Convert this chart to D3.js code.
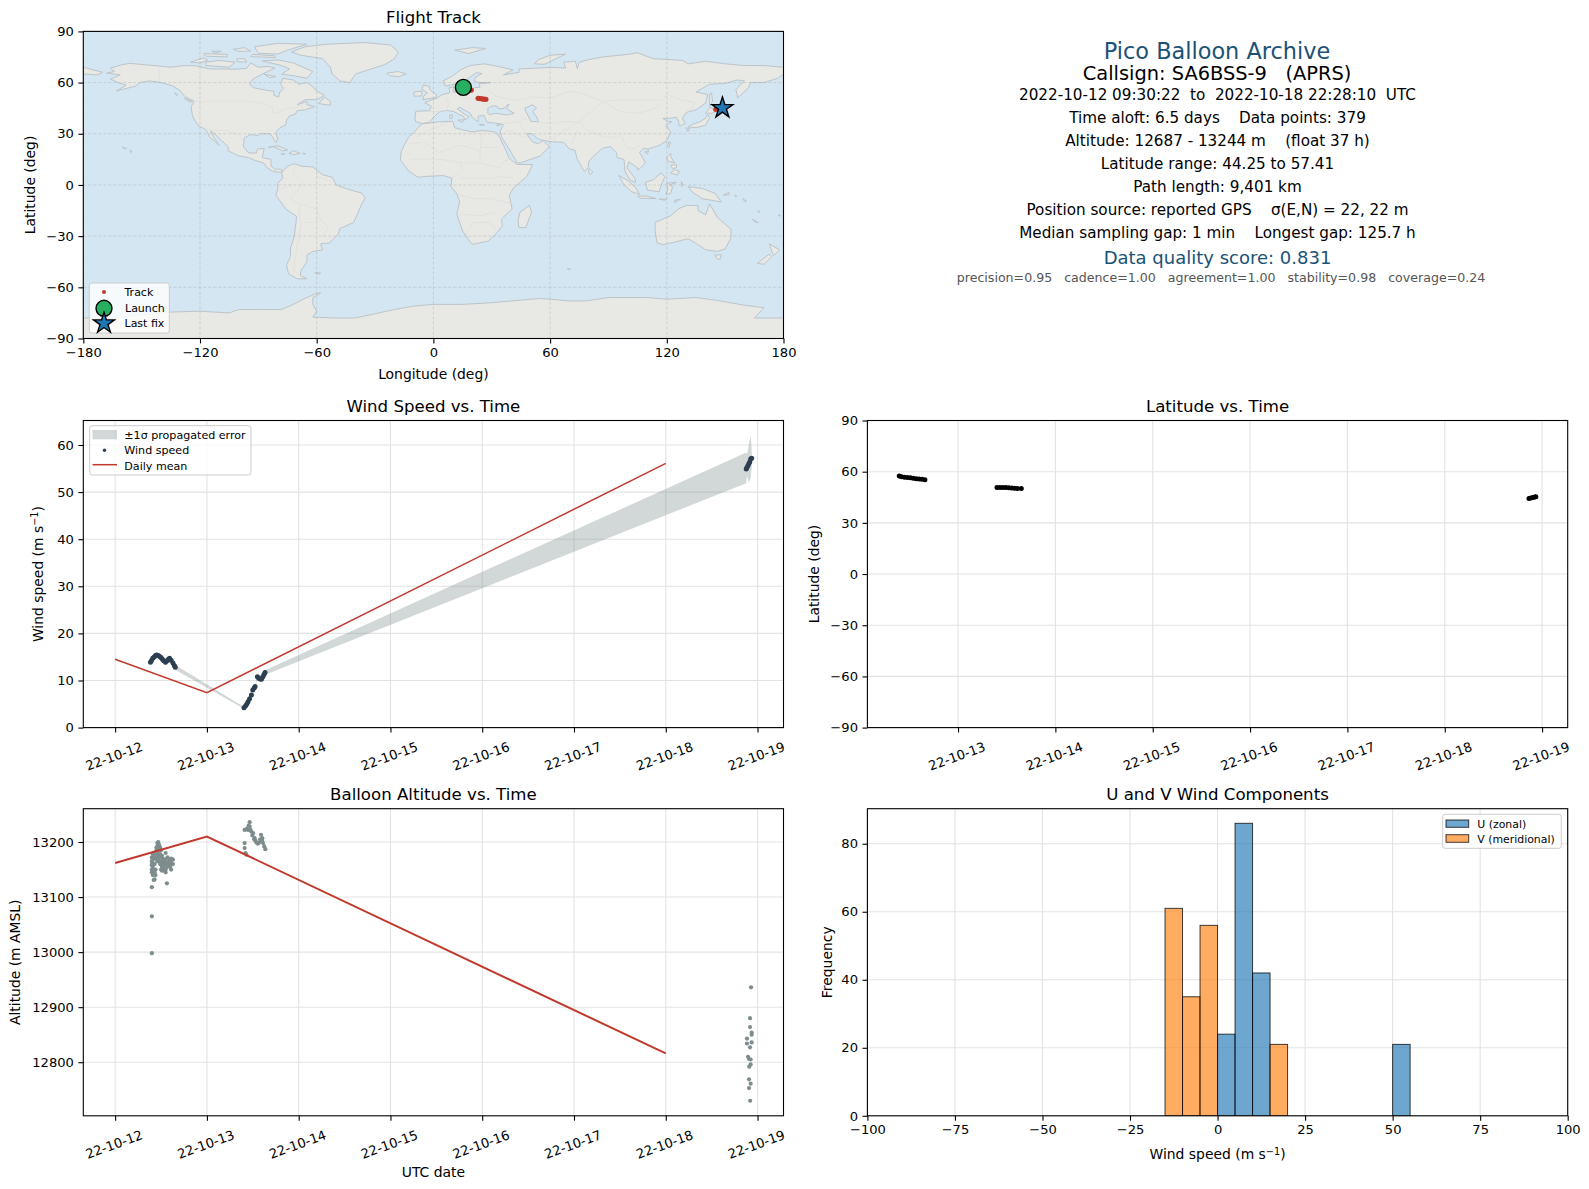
<!DOCTYPE html>
<html>
<head>
<meta charset="utf-8">
<script src="https://cdn.jsdelivr.net/npm/d3@7"></script>
<style>
  body { margin: 0; background: #fff; }
  svg { display: block; }
  text { font-family: "DejaVu Sans", sans-serif; fill: #000; }
</style>
</head>
<body>
<svg id="chart" width="1589" height="1189"></svg>
<script>
// land outlines, [lon, lat]
var landShapes = [
  // north america
  [[-168,65.5],[-164,66.5],[-166,68.5],[-160,70.5],[-156,71.3],[-148,70.4],[-141,69.7],[-135,69],[-128,70],[-122,69.8],[-115,68],[-108,68],[-102,67.8],[-96,68.3],[-94,71.5],[-90,69],[-85,69.5],[-81.5,68.5],[-87,65.5],[-93,62],[-94.5,59],[-92.5,57],[-85,55.3],[-82,55],[-82,52.5],[-79.5,51.5],[-79,54.5],[-77,56.5],[-78.5,59],[-77.5,62.5],[-72,61.5],[-69,59],[-65,60],[-62,57.5],[-60,55],[-56,52.5],[-60,50],[-66,50],[-70,47],[-65,49],[-65,47],[-61,46],[-66,44],[-70,43.5],[-71,41.5],[-74,40.5],[-75.5,38],[-76,35],[-79,33.5],[-81,31],[-80,26.5],[-81,25],[-82.7,28],[-84,30],[-89,30],[-90,29],[-94,29.5],[-97.3,27.5],[-97.7,22.5],[-95,18.8],[-91,18.7],[-90.5,21],[-87,21.5],[-88,16],[-83.5,15],[-83.5,11],[-81,9],[-79.5,9.5],[-77.5,8.5],[-78.5,7.5],[-80.5,7.5],[-83,8.3],[-85.5,10],[-87.5,13],[-92,14.5],[-95,16],[-100,17],[-105.5,20],[-105.5,22.5],[-109,26],[-112.5,30],[-114.7,31.7],[-113,28],[-110,23],[-112,25],[-115,28],[-117,32.5],[-120.5,34.5],[-122.5,37.5],[-124,41],[-124.5,46],[-123,49],[-128,52],[-130,55],[-134,58],[-140,60],[-146,61],[-151,60],[-153,58],[-158,56.5],[-163,55],[-158,58.5],[-162,60],[-166,62],[-161,64.5]],
  // greenland and arctic islands
  [[-73,78],[-66,81],[-55,82.5],[-35,83.5],[-22,82],[-18,78],[-20,74],[-25,70.5],[-32,68],[-40,65],[-43,60],[-48,61],[-52,65],[-53,69],[-57,74],[-68,76]],
  [[-80,73.3],[-72,71.5],[-67,69],[-62,66.5],[-65,62.5],[-72,64],[-78,65],[-74,68],[-78,70],[-88,72.7]],
  [[-117,70],[-105,69],[-102,72],[-110,73],[-117,72]],
  [[-125,72],[-118,74.5],[-116,73],[-120,71.5]],
  [[-90,77.2],[-80,76.7],[-75,79],[-65,82.5],[-80,83],[-92,81]],
  [[-94,75.2],[-81,74.7],[-82,75.8],[-93,76.5]],
  [[-117,75.5],[-106,75],[-106,76.5],[-118,77]],
  [[-101,74],[-97,74],[-96,72],[-101,72.2]],
  [[-114,78.4],[-109,78.4],[-112,77.4]],
  [[-103,79.5],[-97,80.5],[-94,78.5],[-100,78.3]],
  [[-87,65],[-81,63.5],[-84,62.8]],
  [[-59,47.7],[-53,46.7],[-53,49],[-56,51.5]],
  // caribbean and pacific
  [[-85,22],[-80,23],[-75,20.5],[-77.5,19.9],[-82,22.5]],
  [[-74.3,18.5],[-72,20],[-68.5,18.5],[-71.5,17.8]],
  [[-78.3,18.4],[-76.3,18.1],[-77.5,17.8]],
  [[-67.2,18.5],[-65.7,18.4],[-66.5,18]],
  [[-156,20.3],[-155,19.6],[-155.7,19]],
  [[-160,22.1],[-157.8,21.5],[-158.2,21.2]],
  [[-61,-51.5],[-58,-51.5],[-59,-52.3]],
  [[-128,50.8],[-124,49],[-125,48.5]],
  [[-133,54],[-131.5,53],[-132,52.3]],
  // south america
  [[-77,8.5],[-75,11],[-71.5,12.5],[-68,11],[-62,10.5],[-57,6],[-52,4.5],[-50,0],[-44,-2.5],[-37,-4.7],[-35,-7.5],[-37,-11.5],[-39,-17],[-41,-22],[-48,-25.5],[-49,-29],[-53.5,-34],[-58,-34.5],[-57,-38],[-62,-39],[-65,-41],[-65,-45],[-68,-50],[-68.5,-53],[-65,-55],[-70,-55],[-74.5,-52],[-75.5,-47],[-73.5,-42],[-73.5,-37],[-71.5,-30],[-70.3,-18.5],[-76,-14],[-81,-6],[-80,-2.5],[-80,1],[-77.5,4],[-78,7.5]],
  // africa
  [[-6,35.8],[3,37],[10,37.3],[11,33.5],[15,32.3],[20,31],[25,32],[32,31],[34,28],[37,21],[39,15.5],[43,12],[51,12],[48,5],[41,-2],[39,-6],[40.5,-14],[35,-20],[35.5,-24],[32.7,-28],[28,-33],[20,-34.8],[18,-32],[15,-27],[12,-17],[13.5,-10],[12,-5],[9,-1],[9.5,4],[5,5.5],[-4,5],[-8,4.5],[-13,8.5],[-17,14.7],[-16.5,20],[-13,27.5],[-9.5,31.5]],
  [[49.3,-12],[50.5,-16],[47.5,-25],[44,-25],[43.5,-21],[44.5,-16]],
  // eurasia
  [[-9,37],[-9.5,38.8],[-9,43.2],[-2,43.5],[-1,46],[-4.5,48.3],[2,51],[4.5,53],[8.5,54],[8,57],[10.5,57.5],[10,54.5],[14,54],[19,54.5],[21,57],[24,57.3],[23.5,59.3],[29.5,60],[23,60],[21,61],[21.5,63],[25,65.3],[22,65.8],[17.5,62],[18.5,60],[16.5,57],[14,55.5],[12.5,56],[11,59],[6,58],[5,61],[10,64],[14,67.5],[19,70],[26,71],[31,70],[41,67.5],[36,64.5],[44,66],[44,68],[54,68.5],[60,69],[68,68.5],[67,72],[73,72.5],[74,68],[75,72],[80,73.5],[87,75],[100,76.5],[105,77.5],[113,74],[128,73],[131,71],[140,72.5],[150,71],[160,70],[170,70],[180,69],[180,65],[177,62.5],[170,60],[163,60],[162,57],[156.5,51],[155.5,56],[160,61],[156,61.5],[150,59.5],[142,59],[135,54.5],[141,53],[140,48],[135,44],[130,42.5],[128,39],[129.5,36],[126.5,34.5],[126,37.5],[125,39.7],[121,39],[118,39],[120,37.5],[122.5,37],[119.5,35],[122,31],[120,26],[116,23],[110,21],[108,21.5],[106,19],[109,13],[107,10.5],[105,8.7],[105,10],[100.5,13.5],[99.5,10],[103.5,4],[104,1.3],[101,3],[98.5,8],[98,15],[94.5,16],[94,19],[91,22.5],[87,21.5],[82,16.5],[80,14],[79.5,10],[77.5,8],[74,15],[72.7,20.5],[70,21],[67,25],[61,25.3],[57,26],[54,26.8],[50.5,30],[48,30],[50,26.5],[51.5,25],[54,24.2],[56.3,26],[59.7,22.5],[55,17],[45,13],[43,13],[39,21],[35,28],[34.3,31.3],[36,35.5],[32,36.2],[27.5,36.8],[26.5,39.5],[26,40.7],[23,40.3],[23,37],[20,39.5],[19,42],[13.5,45.5],[12.3,44.5],[16,41.5],[18.5,40],[16,38],[15.7,40],[10.5,43],[7,43.7],[3.2,43],[0,39.5],[-2,36.8],[-5.5,36]],
  [[-180,69],[-175,67.5],[-170,66],[-173,64.5],[-180,65]],
  // europe islands
  [[-5.5,50],[1.3,51.2],[1.7,52.7],[-2,56],[-2,57.7],[-5,58.6],[-6,56],[-3,54],[-5,52]],
  [[-10,52],[-6,52.2],[-6,55],[-10,54.5]],
  [[-24,65.5],[-18,66.5],[-14,65],[-18,63.5],[-22.5,64]],
  [[11,79],[20,80.5],[27,80],[18,77]],
  [[52,71],[57,70.7],[68,76.7],[60,76],[54,73.5]],
  [[8.3,41],[9.7,41],[9.5,39],[8.5,39]],
  [[12.5,38],[15.5,38.2],[15,36.7]],
  [[23.5,35.5],[26.3,35.2],[24.5,34.9]],
  [[32.5,35],[34.5,35.6],[33.5,34.7]],
  // asia islands
  [[80,9.7],[82,7.5],[80.5,6],[79.8,8]],
  [[131,34],[135,33.6],[140,35],[142,39.5],[141,41.3],[139.8,39],[137,37],[133,35.5]],
  [[140,42],[143,42],[145.5,43.5],[142,45.5]],
  [[130,33.5],[131.8,33],[130.8,31.2]],
  [[142,46],[143.5,49],[143,54],[142,53]],
  [[120.3,23],[121,22],[122,25],[121,25.2]],
  [[108.7,19.3],[110.8,20],[110,18.3]],
  [[120,16],[122,18.5],[122.3,16],[124,13],[120.5,14]],
  [[122,11.5],[125,12],[125,10.2],[123,9.5]],
  [[122,7],[125.5,5.8],[126.5,8],[124,9]],
  [[109,1.5],[113,3],[117,7],[119,5],[117.5,1],[116,-4],[110,-3]],
  [[95.3,5.6],[100,2.5],[104,-1.5],[106,-5.5],[102,-4],[98,0]],
  [[105,-6.5],[110,-6.5],[114.5,-8],[106,-7.8]],
  [[119.5,-5.5],[120.5,-2.5],[120,1],[125,1.5],[121.5,0],[123,-1],[122,-5]],
  [[127.5,2],[128.5,0],[127.7,-0.8]],
  [[116,-8.3],[120,-8.3],[119,-9]],
  [[124,-9],[127,-8.4],[124,-10.2]],
  // oceania
  [[131,-1],[138,-2],[145,-5],[148,-10],[143,-9],[138,-8],[133,-4]],
  [[149,-6],[152,-4.3],[152,-5.8]],
  [[155,-6],[156,-6.5],[155.5,-7]],
  [[159,-8],[161,-9.5],[160,-9.7]],
  [[114,-22],[122,-18],[126,-14],[130,-12],[136,-12],[136,-15],[140,-17.5],[142,-11],[146,-19],[153,-26],[153,-31],[150,-37.5],[146,-39],[140,-38],[136,-35],[131,-31.5],[124,-33.5],[118,-35],[115,-34],[114,-27]],
  [[144.7,-41],[148,-41],[147.5,-43.5],[146,-43.5]],
  [[172.7,-34.5],[178,-38],[175,-41.5],[174,-39]],
  [[172.5,-40.7],[174,-42],[170,-46.5],[166.5,-46],[171,-42]],
  [[164,-20],[167,-22],[165.5,-21.8]],
  [[167,-15],[167.8,-16],[167,-16]],
  [[177.5,-17.5],[178.6,-18],[177.6,-18.2]],
  [[68.8,-49],[70.5,-49.2],[69.5,-49.7]],
  // antarctica
  [[-180,-78],[-165,-78],[-158,-77],[-148,-76],[-135,-74.5],[-120,-74],[-105,-75],[-100,-73],[-90,-73],[-78,-73],[-72,-70],[-67,-67],[-60,-63.5],[-58,-63.3],[-62,-66],[-62,-70],[-60,-74],[-62,-77.5],[-50,-78],[-40,-78],[-32,-76],[-20,-73],[-10,-71],[0,-70],[15,-70],[30,-69],[45,-67.5],[55,-66.5],[70,-68],[78,-68],[90,-66],[110,-66],[120,-67],[135,-66],[145,-67.5],[160,-70.5],[170,-72],[165,-78],[180,-78],[180,-90],[-180,-90]]
];
// inland seas painted back over the land
var seaShapes = [
  [[28,42],[28,45],[31,46.5],[33,46],[33.5,44.5],[36.5,45],[38,47],[39,47],[37.5,44.7],[41.5,42],[38,41],[32,42],[29,41.2]],
  [[47,45],[51,47],[53,45],[51,43],[53,40],[54,37],[50,37.3],[49,40],[47.5,43]]
];
// a few faint country borders
var borderLines = [
  [[-123,49],[-95,49],[-88,48],[-83,45.5],[-82.5,42],[-79,43],[-75,45],[-71,45],[-68,47],[-67,45]],
  [[-141,69.7],[-141,60]],
  [[-117,32.5],[-106.5,31.8],[-101,29.7],[-97.3,26]],
  [[-71,12],[-72,7],[-67,2],[-70,-4],[-74,-8],[-69,-11],[-69,-17]],
  [[-60,8],[-60,5],[-52,2]],
  [[-69,-11],[-60,-14],[-58,-20],[-54,-25],[-57,-30]],
  [[-69,-17],[-68,-24],[-70,-35],[-72,-50],[-68.5,-53]],
  [[-80,-3],[-75,-1],[-72,1]],
  [[-58,-20],[-62,-22],[-66,-22]],
  [[-9,28],[-2,32],[2,34],[8,37]],
  [[-13,24],[-5,25],[3,19],[12,23],[15,23],[24,20],[25,32]],
  [[-12,15],[-5,15],[4,15],[14,13],[24,13],[24,20]],
  [[24,13],[34,10],[36,14],[40,15]],
  [[34,22],[24,22]],
  [[9,4],[15,8],[14,13]],
  [[14,4],[30,4],[35,5],[41,4]],
  [[13,-6],[22,-8],[30,-8],[40,-11]],
  [[12,-17],[24,-18],[33,-16]],
  [[17,-29],[20,-22],[29,-22],[32,-26]],
  [[-2,43],[3,43],[7,44],[8,48],[6,51]],
  [[14,54],[15,51],[24,50],[29,45]],
  [[28,56],[32,52],[40,50],[47,50],[50,51.5],[61,51],[70,55],[77,53.5],[87,49],[98,50],[107,50],[117,49.5],[120,53],[127,50],[135,48],[131,43]],
  [[87,49],[96,43],[105,42],[112,44],[117,47]],
  [[53,37],[61,36],[66,37],[75,37],[80,42],[87,49]],
  [[75,37],[79,32],[88,28],[97,28],[99,22],[102,21],[106,23]],
  [[61,25],[63,29],[71,34],[75,37]],
  [[71,24],[74,32]],
  [[36,36],[44,37],[46,33],[48,30]],
  [[35,30],[39,32],[44,29],[48,28]],
  [[44,37],[48,39]]
];

var mapLonTicks = [-180, -120, -60, 0, 60, 120, 180];
var mapLatTicks = [-90, -60, -30, 0, 30, 60, 90];

// positions of the balloon on the map
var trackLon = [15.4, 16.5, 17.5, 18.5, 19.5, 23, 24, 25, 26, 27, 145.2, 146.5, 148.6];
var trackLat = [57.4, 56.9, 56.5, 56, 55.6, 50.8, 50.6, 50.5, 50.3, 50.2, 44.3, 44.8, 45.1];
var launchPoint = [15.4, 57.2];
var lastFix = [148.6, 45.1];

// time is in days of October 2022, so 12.5 = 22-10-12 12:00
var dayTicks = [12, 13, 14, 15, 16, 17, 18, 19];
var latDayTicks = [13, 14, 15, 16, 17, 18, 19];

var windTimes = [12.385, 12.395, 12.41, 12.425, 12.44, 12.454, 12.47, 12.485, 12.5, 12.515, 12.53, 12.549, 12.565, 12.58, 12.593, 12.61, 12.63, 12.645, 12.655,
  13.404, 13.42, 13.435, 13.448, 13.465, 13.485, 13.5, 13.515, 13.525, 13.55, 13.565, 13.58, 13.594, 13.61, 13.622, 13.633,
  18.877, 18.885, 18.895, 18.905, 18.915, 18.925, 18.936];
var windSpeeds = [13.9, 14.2, 14.7, 15, 15.3, 15.4, 15.3, 15.1, 14.9, 14.5, 14.2, 13.9, 14.2, 14.5, 14.7, 14.3, 13.7, 13.2, 12.8,
  4.2, 4.6, 5, 5.5, 6.1, 6.9, 8, 8.4, 8.7, 10.8, 10.5, 10.3, 10.25, 10.8, 11.3, 11.7,
  54.9, 55.2, 55.6, 56, 56.4, 57, 57.2];

var bandTimes = [12.385, 12.41, 12.454, 12.5, 12.549, 12.593, 12.63, 12.655, 13.404, 13.448, 13.485, 13.5, 13.525, 13.55, 13.594, 13.633, 18.877, 18.885, 18.905, 18.925, 18.936];
var bandUpper = [14.4, 15.2, 15.9, 15.4, 14.4, 15.2, 14.1, 13.3, 4.4, 5.7, 7.1, 8.2, 8.9, 11.1, 10.5, 12.2, 58.4, 58, 60, 62.1, 59];
var bandLower = [13.4, 14.2, 14.9, 14.4, 13.3, 14.2, 13.2, 12.3, 4, 5.3, 6.7, 7.8, 8.5, 10.5, 10, 11.2, 51.9, 53.5, 52, 53, 55];

var meanDays = [12, 13, 18];
var meanWind = [14.5, 7.4, 56.1];
var meanAltitude = [13162, 13210, 12816];

var latTimes = [12.396, 12.42, 12.45, 12.48, 12.51, 12.54, 12.57, 12.6, 12.63, 12.66, 13.4, 13.43, 13.46, 13.49, 13.52, 13.55, 13.58, 13.61, 13.65, 18.865, 18.885, 18.905, 18.925, 18.936];
var latValues = [57.41, 57.1, 56.8, 56.6, 56.4, 56.1, 55.9, 55.7, 55.5, 55.3, 50.8, 50.8, 50.75, 50.7, 50.6, 50.5, 50.3, 50.1, 50.1, 44.25, 44.6, 44.8, 45.1, 45.3];

var altTimes = [12.4, 12.4, 12.4, 12.4, 12.4, 12.4, 12.4, 12.4, 12.4,
  12.41, 12.41, 12.41, 12.41, 12.41, 12.42, 12.42, 12.42, 12.42, 12.42, 12.43, 12.43, 12.43, 12.43, 12.44, 12.44, 12.44,
  12.45, 12.45, 12.45, 12.46, 12.46, 12.46, 12.46, 12.47, 12.47, 12.47, 12.47, 12.48, 12.48, 12.48, 12.49, 12.49, 12.49, 12.49,
  12.5, 12.5, 12.5, 12.5, 12.51, 12.51, 12.51, 12.51, 12.52, 12.52, 12.52, 12.53, 12.53, 12.564, 12.55, 12.55, 12.55, 12.55, 12.55,
  12.57, 12.57, 12.57, 12.59, 12.59, 12.6, 12.6, 12.61, 12.61, 12.61, 12.63, 12.63,
  13.411, 13.411, 13.42, 13.43, 13.411, 13.448, 13.466, 13.466, 13.484, 13.503, 13.52, 13.54, 13.568, 13.59, 13.604, 13.612, 13.637, 13.44, 13.455, 13.475, 13.495, 13.515, 13.53, 13.555, 13.58, 13.6, 13.625,
  18.929, 18.918, 18.918, 18.936, 18.936, 18.885, 18.885, 18.936, 18.918, 18.896, 18.907, 18.925, 18.925, 18.91, 18.907, 18.925, 18.907, 18.92];
var altValues = [13172, 13165, 13158, 13150, 13160, 13145, 13118, 13065, 12998,
  13178, 13168, 13155, 13148, 13140, 13180, 13170, 13160, 13150, 13131, 13175, 13160, 13145, 13132, 13170, 13150, 13140,
  13190, 13185, 13175, 13198, 13192, 13180, 13165, 13200, 13195, 13185, 13170, 13195, 13188, 13175, 13190, 13178, 13165, 13160,
  13185, 13172, 13160, 13150, 13175, 13165, 13155, 13148, 13170, 13160, 13150, 13165, 13155, 13125, 13180, 13168, 13160, 13150, 13145,
  13172, 13162, 13155, 13168, 13158, 13165, 13155, 13170, 13160, 13150, 13168, 13160,
  13198, 13189, 13180, 13177, 13222, 13222, 13236, 13228, 13219, 13216, 13207, 13199, 13199, 13213, 13207, 13198, 13187, 13225, 13230, 13222, 13212, 13205, 13202, 13197, 13205, 13203, 13192,
  12936, 12880, 12864, 12854, 12850, 12843, 12834, 12836, 12827, 12810, 12806, 12805, 12796, 12792, 12769, 12761, 12753, 12730];

var histBinStart = [-15, -10, -5, 0, 5, 10, 15, 50];
var histU = [0, 0, 0, 24, 86, 42, 0, 21];
var histV = [61, 35, 56, 0, 0, 0, 21, 0];
var histBinWidth = 5;
var histXTicks = [-100, -75, -50, -25, 0, 25, 50, 75, 100];

var infoLines = [
  ["Pico Balloon Archive", 50.5, 22.4, "#1a5276", 1217],
  ["Callsign: SA6BSS-9   (APRS)", 73, 19.4, "#000", 1217],
  ["2022-10-12 09:30:22  to  2022-10-18 22:28:10  UTC", 95, 15.2, "#000", 1217.5],
  ["Time aloft: 6.5 days    Data points: 379", 118, 15.2, "#000", 1217.5],
  ["Altitude: 12687 - 13244 m    (float 37 h)", 141, 15.2, "#000", 1217.5],
  ["Latitude range: 44.25 to 57.41", 164, 15.2, "#000", 1217.5],
  ["Path length: 9,401 km", 187, 15.2, "#000", 1217.5],
  ["Position source: reported GPS    σ(E,N) = 22, 22 m", 210, 15.2, "#000", 1217.5],
  ["Median sampling gap: 1 min    Longest gap: 125.7 h", 233, 15.2, "#000", 1217.5],
  ["Data quality score: 0.831", 257.5, 18, "#1a5276", 1217.5],
  ["precision=0.95   cadence=1.00   agreement=1.00   stability=0.98   coverage=0.24", 277.5, 12.6, "#555", 1221]
];

var tickFont = 13.1, labelFont = 13.9, titleFont = 16.6;
var gridColor = "#e3e3e3";
var minusFmt = function(d){ return String(d).replace("-", "\u2212") };
var dateFmt = function(d){ return "22-10-" + d };

var svg = d3.select("#chart");
var clipCount = 0;

// one axes box, returns the scales and the clipped group to draw in
function makePanel(box, xDomain, yDomain, xTicks, yTicks, xFmt, rotated){
  var x = d3.scaleLinear().domain(xDomain).range([box.left, box.right]);
  var y = d3.scaleLinear().domain(yDomain).range([box.bottom, box.top]);
  var id = "clip" + (clipCount++);
  svg.append("clipPath").attr("id", id).append("rect")
    .attr("x", box.left).attr("y", box.top)
    .attr("width", box.right - box.left).attr("height", box.bottom - box.top);

  var back = svg.append("g").attr("clip-path", "url(#" + id + ")");
  var grid = svg.append("g");
  grid.selectAll(".gx").data(xTicks).enter().append("line")
    .attr("x1", x).attr("x2", x).attr("y1", box.top).attr("y2", box.bottom);
  grid.selectAll(".gy").data(yTicks).enter().append("line")
    .attr("y1", y).attr("y2", y).attr("x1", box.left).attr("x2", box.right);
  grid.selectAll("line").attr("stroke", gridColor).attr("stroke-width", 1.1);
  var marks = svg.append("g").attr("clip-path", "url(#" + id + ")");

  var xAxis = svg.append("g").attr("transform", "translate(0," + box.bottom + ")")
    .call(d3.axisBottom(x).tickValues(xTicks).tickFormat(xFmt).tickSize(4.9).tickPadding(4));
  var yAxis = svg.append("g").attr("transform", "translate(" + box.left + ",0)")
    .call(d3.axisLeft(y).tickValues(yTicks).tickFormat(minusFmt).tickSize(4.9).tickPadding(4.5));
  [xAxis, yAxis].forEach(function(a){
    a.select(".domain").remove();
    a.selectAll("line").attr("stroke-width", 1.1);
    a.selectAll("text").style("font-family", "DejaVu Sans").attr("font-size", tickFont);
  });
  if (rotated){
    xAxis.selectAll("text")
      .attr("text-anchor", "middle").attr("dy", 0).attr("y", 0)
      .attr("transform", "translate(0,33) rotate(-20)");
  }
  svg.append("rect").attr("x", box.left).attr("y", box.top)
    .attr("width", box.right - box.left).attr("height", box.bottom - box.top)
    .attr("fill", "none").attr("stroke", "#000").attr("stroke-width", 1.1);

  return {x: x, y: y, back: back, grid: grid, marks: marks, box: box};
}

function title(box, txt){
  svg.append("text").attr("x", (box.left + box.right) / 2).attr("y", box.top - 8.5)
    .attr("text-anchor", "middle").attr("font-size", titleFont).text(txt);
}

function xLabel(box, yPos, txt, sup){
  var t = svg.append("text").attr("x", (box.left + box.right) / 2).attr("y", yPos)
    .attr("text-anchor", "middle").attr("font-size", labelFont).text(txt);
  if (sup) addSuper(t);
}

function yLabel(box, xPos, txt, sup){
  var t = svg.append("text")
    .attr("transform", "translate(" + xPos + "," + (box.top + box.bottom) / 2 + ") rotate(-90)")
    .attr("text-anchor", "middle").attr("font-size", labelFont).text(txt);
  if (sup) addSuper(t);
}

// "m s^-1)" with a raised exponent
function addSuper(t){
  t.append("tspan").attr("dy", -4.5).attr("font-size", labelFont * 0.7).text("\u22121");
  t.append("tspan").attr("dy", 4.5).text(")");
}

function legendBox(x0, y0, w, h){
  svg.append("rect").attr("x", x0).attr("y", y0).attr("width", w).attr("height", h).attr("rx", 2.5)
    .attr("fill", "#fff").attr("fill-opacity", 0.8).attr("stroke", "#ccc").attr("stroke-width", 1);
}
function legendText(x0, y0, txt, size){
  svg.append("text").attr("x", x0).attr("y", y0).attr("font-size", size).text(txt);
}

var timeLine = function(p, times, values){
  return d3.line().x(function(d){ return p.x(d) })
    .y(function(d, i){ return p.y(values[i]) })(times);
};

// ---- flight track map
var mapBox = {left: 83.3, right: 783.5, top: 31.4, bottom: 338.5};
var mapP = makePanel(mapBox, [-180, 180], [-90, 90], mapLonTicks, mapLatTicks, minusFmt, false);
var geoLine = d3.line().x(function(d){ return mapP.x(d[0]) }).y(function(d){ return mapP.y(d[1]) });
mapP.back.append("rect").attr("x", mapBox.left).attr("y", mapBox.top)
  .attr("width", mapBox.right - mapBox.left).attr("height", mapBox.bottom - mapBox.top).attr("fill", "#d4e6f1");
mapP.back.selectAll(".land").data(landShapes).enter().append("path")
  .attr("d", function(d){ return geoLine(d) + "Z" })
  .attr("fill", "#e8e8e4").attr("stroke", "#bcc4ca").attr("stroke-width", 1).attr("stroke-linejoin", "round");
mapP.back.selectAll(".sea").data(seaShapes).enter().append("path")
  .attr("d", function(d){ return geoLine(d) + "Z" })
  .attr("fill", "#d4e6f1").attr("stroke", "#bcc4ca").attr("stroke-width", 1);
mapP.back.selectAll(".border").data(borderLines).enter().append("path")
  .attr("d", geoLine).attr("fill", "none").attr("stroke", "#dcdcda").attr("stroke-width", 0.7);
mapP.grid.selectAll("line").attr("stroke", "#9a9a9a").attr("stroke-opacity", 0.4)
  .attr("stroke-width", 0.8).attr("stroke-dasharray", "3,2");
mapP.marks.selectAll(".trk").data(trackLon).enter().append("circle")
  .attr("cx", function(d){ return mapP.x(d) })
  .attr("cy", function(d, i){ return mapP.y(trackLat[i]) })
  .attr("r", 2.6).attr("fill", "#c0392b");
mapP.marks.append("circle").attr("cx", mapP.x(launchPoint[0])).attr("cy", mapP.y(launchPoint[1]))
  .attr("r", 8).attr("fill", "#27ae60").attr("stroke", "#000").attr("stroke-width", 1.4);
mapP.marks.append("path").attr("d", d3.symbol(d3.symbolStar).size(136)())
  .attr("transform", "translate(" + mapP.x(lastFix[0]) + "," + mapP.y(lastFix[1]) + ")")
  .attr("fill", "#1f77b4").attr("stroke", "#000").attr("stroke-width", 1.4);
title(mapBox, "Flight Track");
xLabel(mapBox, 378.5, "Longitude (deg)");
yLabel(mapBox, 35, "Latitude (deg)");
legendBox(89.3, 283, 80, 50);
svg.append("circle").attr("cx", 104).attr("cy", 292).attr("r", 2).attr("fill", "#c0392b");
svg.append("circle").attr("cx", 104).attr("cy", 308.3).attr("r", 8).attr("fill", "#27ae60").attr("stroke", "#000").attr("stroke-width", 1.4);
svg.append("path").attr("d", d3.symbol(d3.symbolStar).size(136)()).attr("transform", "translate(104,323.3)")
  .attr("fill", "#1f77b4").attr("stroke", "#000").attr("stroke-width", 1.4);
legendText(124.5, 296, "Track", 11);
legendText(125, 312, "Launch", 11);
legendText(124.5, 327, "Last fix", 11);

// ---- info block
svg.selectAll(".info").data(infoLines).enter().append("text")
  .attr("x", function(d){ return d[4] }).attr("y", function(d){ return d[1] + d[2] * 0.36 })
  .attr("text-anchor", "middle").attr("font-size", function(d){ return d[2] })
  .style("fill", function(d){ return d[3] })
  .attr("xml:space", "preserve").style("white-space", "pre")
  .text(function(d){ return d[0] });

// ---- wind speed
var windBox = {left: 83.3, right: 783.5, top: 420.5, bottom: 727.6};
var windP = makePanel(windBox, [11.653, 19.283], [0, 65.2], dayTicks, [0, 10, 20, 30, 40, 50, 60], dateFmt, true);
var bandArea = d3.area().x(function(d){ return windP.x(d) })
  .y0(function(d, i){ return windP.y(bandLower[i]) })
  .y1(function(d, i){ return windP.y(bandUpper[i]) });
windP.marks.append("path").attr("d", bandArea(bandTimes)).attr("fill", "#7f8c8d").attr("fill-opacity", 0.35);
windP.marks.selectAll(".wnd").data(windTimes).enter().append("circle")
  .attr("cx", function(d){ return windP.x(d) })
  .attr("cy", function(d, i){ return windP.y(windSpeeds[i]) })
  .attr("r", 2.5).attr("fill", "#2c3e50");
windP.marks.append("path").attr("d", timeLine(windP, meanDays, meanWind))
  .attr("fill", "none").attr("stroke", "#c0392b").attr("stroke-width", 1.5);
title(windBox, "Wind Speed vs. Time");
yLabel(windBox, 42.5, "Wind speed (m s", true);
legendBox(89.7, 425.7, 161.3, 49.3);
svg.append("rect").attr("x", 92.5).attr("y", 430).attr("width", 24.5).attr("height", 9.3)
  .attr("fill", "#7f8c8d").attr("fill-opacity", 0.35);
svg.append("circle").attr("cx", 104.5).attr("cy", 450.3).attr("r", 1.7).attr("fill", "#2c3e50");
svg.append("line").attr("x1", 92.5).attr("x2", 117).attr("y1", 464.7).attr("y2", 464.7)
  .attr("stroke", "#c0392b").attr("stroke-width", 1.5);
legendText(124.3, 439.3, "±1σ propagated error", 11.1);
legendText(124.3, 454.3, "Wind speed", 11.1);
legendText(124.3, 469.5, "Daily mean", 11.1);

// ---- latitude
var latBox = {left: 867.4, right: 1567.7, top: 420.5, bottom: 727.6};
var latP = makePanel(latBox, [12.069, 19.263], [-90, 90], latDayTicks, mapLatTicks, dateFmt, true);
latP.marks.selectAll(".lat").data(latTimes).enter().append("circle")
  .attr("cx", function(d){ return latP.x(d) })
  .attr("cy", function(d, i){ return latP.y(latValues[i]) })
  .attr("r", 2.5).attr("fill", "#000");
title(latBox, "Latitude vs. Time");
yLabel(latBox, 819, "Latitude (deg)");

// ---- altitude
var altBox = {left: 83.3, right: 783.5, top: 808.7, bottom: 1115.8};
var altP = makePanel(altBox, [11.653, 19.283], [12702.7, 13260.5], dayTicks, [12800, 12900, 13000, 13100, 13200], dateFmt, true);
altP.marks.selectAll(".alt").data(altTimes).enter().append("circle")
  .attr("cx", function(d){ return altP.x(d) })
  .attr("cy", function(d, i){ return altP.y(altValues[i]) })
  .attr("r", 2.1).attr("fill", "#7f8c8d");
altP.marks.append("path").attr("d", timeLine(altP, meanDays, meanAltitude))
  .attr("fill", "none").attr("stroke", "#c0392b").attr("stroke-width", 2);
title(altBox, "Balloon Altitude vs. Time");
xLabel(altBox, 1177, "UTC date");
yLabel(altBox, 20, "Altitude (m AMSL)");

// ---- histogram
var histBox = {left: 867.4, right: 1567.7, top: 808.7, bottom: 1115.8};
var histP = makePanel(histBox, [-100, 100], [0, 90.3], histXTicks, [0, 20, 40, 60, 80], minusFmt, false);
[[histU, "#1f77b4"], [histV, "#ff7f0e"]].forEach(function(s){
  histP.marks.selectAll(".bar").data(histBinStart).enter().append("rect")
    .filter(function(d, i){ return s[0][i] > 0 })
    .attr("x", function(d){ return histP.x(d) })
    .attr("width", function(d){ return histP.x(d + histBinWidth) - histP.x(d) })
    .attr("y", function(d){ return histP.y(s[0][histBinStart.indexOf(d)]) })
    .attr("height", function(d){ return histP.y(0) - histP.y(s[0][histBinStart.indexOf(d)]) })
    .attr("fill", s[1]).attr("fill-opacity", 0.65)
    .attr("stroke", "#000").attr("stroke-opacity", 0.75).attr("stroke-width", 1);
});
title(histBox, "U and V Wind Components");
xLabel(histBox, 1159, "Wind speed (m s", true);
yLabel(histBox, 832, "Frequency");
legendBox(1442.7, 814.3, 118.6, 34);
svg.append("rect").attr("x", 1446).attr("y", 820).attr("width", 22.7).attr("height", 7.3)
  .attr("fill", "#1f77b4").attr("fill-opacity", 0.65).attr("stroke", "#000").attr("stroke-opacity", 0.75);
svg.append("rect").attr("x", 1446).attr("y", 834.7).attr("width", 22.7).attr("height", 7.6)
  .attr("fill", "#ff7f0e").attr("fill-opacity", 0.65).attr("stroke", "#000").attr("stroke-opacity", 0.75);
legendText(1477.3, 828.3, "U (zonal)", 10.9);
legendText(1477.3, 843, "V (meridional)", 10.9);
</script>
</body>
</html>
